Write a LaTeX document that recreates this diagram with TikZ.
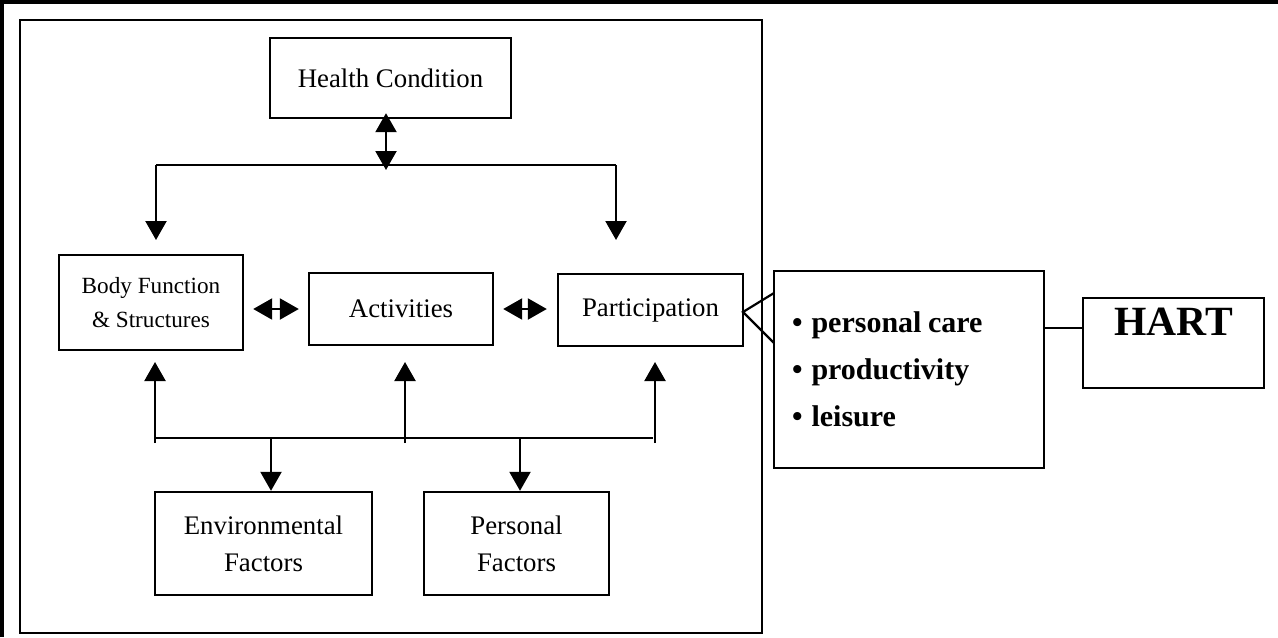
\documentclass[tikz,border=0pt]{standalone}
\usepackage{fontspec}
\setmainfont{Liberation Serif}
\usetikzlibrary{arrows.meta,calc}
\begin{document}
\begin{tikzpicture}[x=0.5pt,y=-0.5pt,
  box/.style={draw,line width=1.2pt,inner sep=0pt,align=center,font=\fontsize{13.4}{18.5}\selectfont},
  conn/.style={line width=1.1pt},
  arr/.style={conn,-{Triangle[width=10.5pt,length=9.5pt]}},
  darr/.style={conn,{Triangle[width=10.5pt,length=9.5pt]}-{Triangle[width=10.5pt,length=9.5pt]}},
]
\useasboundingbox (0,0) rectangle (1278,637);
% frames
\draw[line width=1.6pt] (2,637) -- (2,2) -- (1278,2);
\draw[line width=1.4pt] (20,20) rectangle (762,633);
% boxes
\node[box,minimum width=120.5pt,minimum height=40pt] (hc) at (390.5,78) {Health Condition};
\node[box,minimum width=92pt,minimum height=47.5pt,font=\fontsize{11.6}{17}\selectfont] (body) at (151,302.5) {Body Function\\\& Structures};
\node[box,minimum width=92pt,minimum height=36pt] (act) at (401,309) {Activities};
\node[box,minimum width=92.5pt,minimum height=36pt] (part) at (650.5,310) {Participation};
\node[box,minimum width=108.5pt,minimum height=51.5pt] (env) at (263.5,543.5) {Environmental\\Factors};
\node[box,minimum width=92.5pt,minimum height=51.5pt] (pers) at (516.5,543.5) {Personal\\Factors};
\node[box,minimum width=135pt,minimum height=98.5pt,inner xsep=9pt,text width=117pt,align=left,font=\bfseries\fontsize{15}{23.5}\selectfont] (list) at (909,369.5) {•\hspace{0.3em}personal\hspace{0.22em}care\\•\hspace{0.3em}productivity\\•\hspace{0.3em}leisure};
\node[box,minimum width=90.5pt,minimum height=45pt] (hart) at (1173.5,343) {};
\node[font=\bfseries\fontsize{20.8}{24}\selectfont,inner sep=0pt] (hartlbl) at (1173.5,322) {HART};
% top connectors
\coordinate (tj) at (386,165);
\coordinate (tl) at (156,165);
\coordinate (tr) at (616,165);
\coordinate (tle) at (156,240);
\coordinate (tre) at (616,240);
\draw[darr,shorten <=-3pt] (hc.south -| tj) -- ($(tj)+(0,5)$);
\draw[conn] (tl) -- (tr);
\draw[arr] (tl) -- (tle);
\draw[arr] (tr) -- (tre);
% horizontal double arrows
\draw[darr,shorten <=4.5pt,shorten >=4.5pt] (body.east |- act.west) -- (act.west);
\draw[darr,shorten <=4.5pt,shorten >=5pt] (act.east) -- (part.west |- act.east);
% bottom connectors
\coordinate (bl) at (155,438);
\coordinate (br) at (653,438);
\coordinate (u1) at (155,443);
\coordinate (u2) at (405,443);
\coordinate (u3) at (655,443);
\coordinate (u1e) at (155,362);
\coordinate (u2e) at (405,362);
\coordinate (u3e) at (655,362);
\draw[conn] (bl) -- (br);
\draw[arr] (u1) -- (u1e);
\draw[arr] (u2) -- (u2e);
\draw[arr] (u3) -- (u3e);
\coordinate (d1) at (271,438);
\coordinate (d2) at (520,438);
\draw[arr] (d1) -- (d1 |- env.north);
\draw[arr] (d2) -- (d2 |- pers.north);
% participation to list
\coordinate (l1) at (774,293);
\coordinate (l2) at (774,343);
\coordinate (p0) at (743,312);
\draw[conn] (l1) -- (p0) -- (l2);
% list to HART
\coordinate (h) at (0,328);
\draw[conn] (list.east |- h) -- (hart.west |- h);
\end{tikzpicture}
\end{document}
